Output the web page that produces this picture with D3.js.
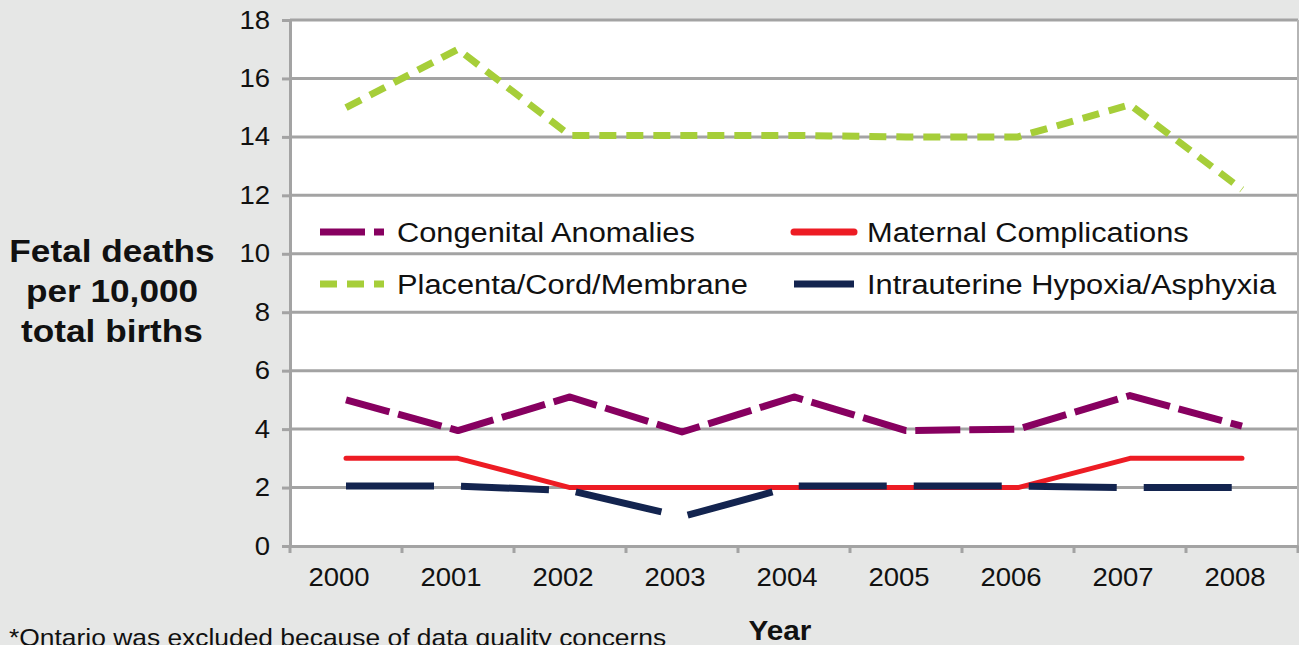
<!DOCTYPE html>
<html>
<head>
<meta charset="utf-8">
<script src="https://cdn.jsdelivr.net/npm/d3@7"></script>
<style>
  body { margin: 0; background: #e6e7e6; }
  svg { display: block; font-family: "Liberation Sans", Arial, sans-serif; }
</style>
</head>
<body>
<script>
const years = ["2000", "2001", "2002", "2003", "2004", "2005", "2006", "2007", "2008"];
const congenital = [5.0, 3.95, 5.1, 3.9, 5.1, 3.95, 4.0, 5.15, 4.1];
const maternal = [3, 3, 2, 2, 2, 2, 2, 3, 3];
const placenta = [15.0, 17.0, 14.05, 14.05, 14.05, 14.0, 14.0, 15.1, 12.2];
const hypoxia = [2.05, 2.05, 1.9, 1.0, 2.05, 2.05, 2.05, 2.0, 2.0];
const yTicks = [0, 2, 4, 6, 8, 10, 12, 14, 16, 18];

const series = [
  { name: "Congenital Anomalies", values: congenital, color: "#870060", width: 7, dash: "45,9", cap: "butt" },
  { name: "Maternal Complications", values: maternal, color: "#ed1c24", width: 5, dash: null, cap: "round" },
  { name: "Placenta/Cord/Membrane", values: placenta, color: "#a6ce39", width: 7, dash: "17,10", cap: "butt" },
  { name: "Intrauterine Hypoxia/Asphyxia", values: hypoxia, color: "#13244f", width: 7, dash: "88,27", cap: "butt" }
];

const W = 1299, H = 645;
const plotL = 290, plotR = 1298, plotT = 20, plotB = 546;
const stretch = 1.1; // the source text is a bit wider than Liberation Sans

const svg = d3.select("body").append("svg")
  .attr("width", W)
  .attr("height", H);

const x = d3.scaleBand().domain(years).range([plotL, plotR]);
const y = d3.scaleLinear().domain([0, 18]).range([plotB, plotT]);

// draws a text placed at (tx, ty) and widened horizontally
function wideText(tx, ty, str, size, anchor, bold) {
  return svg.append("text")
    .attr("transform", `translate(${tx},${ty}) scale(${stretch},1)`)
    .attr("text-anchor", anchor || "start")
    .attr("font-size", size)
    .attr("font-weight", bold ? "bold" : "normal")
    .attr("fill", "#111")
    .text(str);
}

// plot area
svg.append("rect")
  .attr("x", plotL).attr("y", plotT)
  .attr("width", plotR - plotL).attr("height", plotB - plotT)
  .attr("fill", "#fff");

// gridlines
svg.append("g")
  .selectAll("line")
  .data(yTicks.filter(d => d > 0))
  .enter().append("line")
  .attr("x1", plotL).attr("x2", plotR)
  .attr("y1", d => y(d)).attr("y2", d => y(d))
  .attr("stroke", "#a3a3a3")
  .attr("stroke-width", 3);

// right border
svg.append("line")
  .attr("x1", plotR).attr("x2", plotR)
  .attr("y1", plotT).attr("y2", plotB)
  .attr("stroke", "#b5b5b5").attr("stroke-width", 2);

// y axis
const yAxis = svg.append("g")
  .attr("transform", `translate(${plotL},0)`)
  .call(d3.axisLeft(y).tickValues(yTicks).tickSize(8).tickPadding(0));
yAxis.select(".domain").attr("stroke", "#a3a3a3").attr("stroke-width", 3);
yAxis.selectAll(".tick line").attr("stroke", "#a3a3a3").attr("stroke-width", 3);
yAxis.selectAll("text")
  .attr("x", null)
  .attr("transform", `translate(-20,0) scale(${stretch},1)`)
  .attr("font-size", 25).attr("fill", "#111");

// x axis
const xAxis = svg.append("g")
  .attr("transform", `translate(0,${plotB})`)
  .call(d3.axisBottom(x).tickSize(0).tickPadding(0));
xAxis.select(".domain").attr("stroke", "#a3a3a3").attr("stroke-width", 3);
xAxis.selectAll("text")
  .attr("y", null).attr("dy", null)
  .attr("transform", `translate(-7,40) scale(${stretch},1)`)
  .attr("font-size", 25).attr("fill", "#111");
svg.append("g")
  .selectAll("line")
  .data(years.concat(["end"]))
  .enter().append("line")
  .attr("x1", (d, i) => plotL + i * x.step())
  .attr("x2", (d, i) => plotL + i * x.step())
  .attr("y1", plotB).attr("y2", plotB + 7)
  .attr("stroke", "#a3a3a3").attr("stroke-width", 3);

// lines
const line = d3.line()
  .x((d, i) => x(years[i]) + x.bandwidth() / 2)
  .y(d => y(d));

series.forEach(s => {
  svg.append("path")
    .datum(s.values)
    .attr("d", line)
    .attr("fill", "none")
    .attr("stroke", s.color)
    .attr("stroke-width", s.width)
    .attr("stroke-dasharray", s.dash)
    .attr("stroke-linecap", s.cap)
    .attr("stroke-linejoin", "round");
});

// legend
const legendPos = [[320, 232], [794, 232], [320, 284], [794, 284]];
series.forEach((s, i) => {
  const [lx, ly] = legendPos[i];
  const len = i % 2 === 0 ? 64 : 60;
  svg.append("line")
    .attr("x1", lx).attr("x2", lx + len)
    .attr("y1", ly).attr("y2", ly)
    .attr("stroke", s.color)
    .attr("stroke-width", 7)
    .attr("stroke-dasharray", s.dash)
    .attr("stroke-linecap", s.cap);
  wideText(lx + len + 13, ly + 10, s.name, 28);
});

// y axis title
["Fetal deaths", "per 10,000", "total births"].forEach((t, i) => {
  wideText(112, 262 + i * 40, t, 32, "middle", true);
});

// x axis title
wideText(780, 640, "Year", 27, "middle", true);

// footnote
wideText(9, 646, "*Ontario was excluded because of data quality concerns", 24);
</script>
</body>
</html>
